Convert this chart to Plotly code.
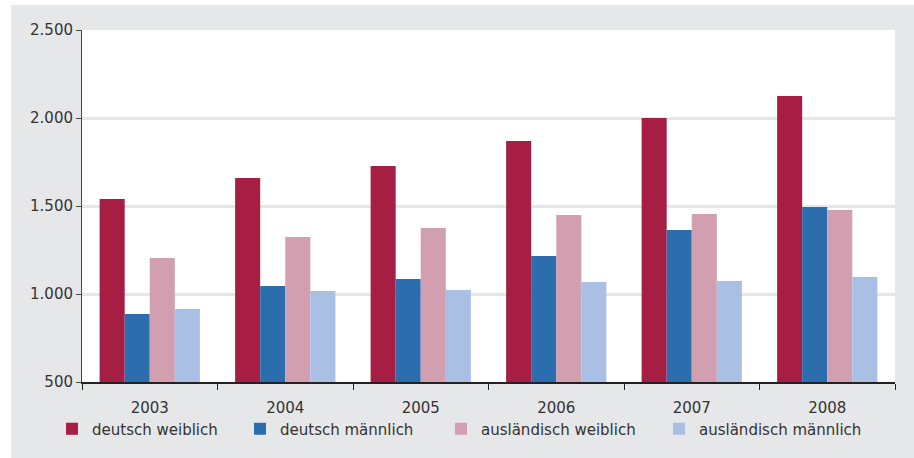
import plotly.graph_objects as go

years = ["2003", "2004", "2005", "2006", "2007", "2008"]
deutsch_weiblich = [1540, 1659, 1727, 1869, 2000, 2125]
deutsch_maennlich = [886, 1045, 1085, 1216, 1364, 1494]
auslaendisch_weiblich = [1205, 1324, 1375, 1449, 1455, 1477]
auslaendisch_maennlich = [915, 1017, 1023, 1068, 1074, 1097]

series = [
    ("deutsch weiblich", deutsch_weiblich, "#A61E44", "legend"),
    ("deutsch männlich", deutsch_maennlich, "#2C6DAD", "legend2"),
    ("ausländisch weiblich", auslaendisch_weiblich, "#D29FB1", "legend3"),
    ("ausländisch männlich", auslaendisch_maennlich, "#A9C0E4", "legend4"),
]

W, H = 914, 458
L, R, T, B = 82, 19, 30, 76
pw, ph = W - L - R, H - T - B

def px_x(p):
    return (p - L) / pw

def px_y(p):
    return (H - B - p) / ph

fig = go.Figure()
for name, vals, col, lg in series:
    fig.add_trace(go.Bar(x=years, y=vals, name=name, marker=dict(color=col, line=dict(width=0)),
                         legend=lg, showlegend=True))

font = dict(family="DejaVu Sans", size=15, color="#333333")
leg_common = dict(orientation="h", yanchor="middle", xanchor="left", y=px_y(429),
                  bgcolor="rgba(0,0,0,0)", font=font, itemwidth=30, visible=True)

fig.update_layout(
    width=W, height=H,
    margin=dict(l=L, r=R, t=T, b=B, autoexpand=False),
    paper_bgcolor="#E6E7E9",
    plot_bgcolor="white",
    separators=",.",
    font=font,
    showlegend=True,
    barmode="group",
    bargap=0.26,
    bargroupgap=0,
    legend=dict(x=px_x(52), **leg_common),
    legend2=dict(x=px_x(240), **leg_common),
    legend3=dict(x=px_x(441), **leg_common),
    legend4=dict(x=px_x(659), **leg_common),
    shapes=[
        dict(type="rect", xref="paper", yref="paper", layer="above",
             x0=px_x(-5), x1=px_x(11), y0=px_y(H + 5), y1=px_y(-5),
             fillcolor="white", line=dict(width=0)),
        dict(type="rect", xref="paper", yref="paper", layer="above",
             x0=px_x(-5), x1=px_x(W + 5), y0=px_y(5), y1=px_y(-5),
             fillcolor="white", line=dict(width=0)),
    ],
)
fig.update_yaxes(range=[500, 2500], tickvals=[500, 1000, 1500, 2000, 2500],
                 tickformat=",.0f", showgrid=True, gridcolor="#E6E6E6", gridwidth=2.5,
                 showline=True, linecolor="#444444", linewidth=1,
                 ticks="outside", ticklen=5, tickcolor="#444444", zeroline=False,
                 tickfont=font)
fig.update_xaxes(showline=True, linecolor="#222222", linewidth=1.5,
                 ticks="outside", ticklen=6, tickcolor="#222222", tickson="boundaries",
                 ticklabelstandoff=11, tickfont=font, showgrid=False)

fig.write_html("out.html", config={"displayModeBar": False},
               post_script="document.body.style.margin='0';")
